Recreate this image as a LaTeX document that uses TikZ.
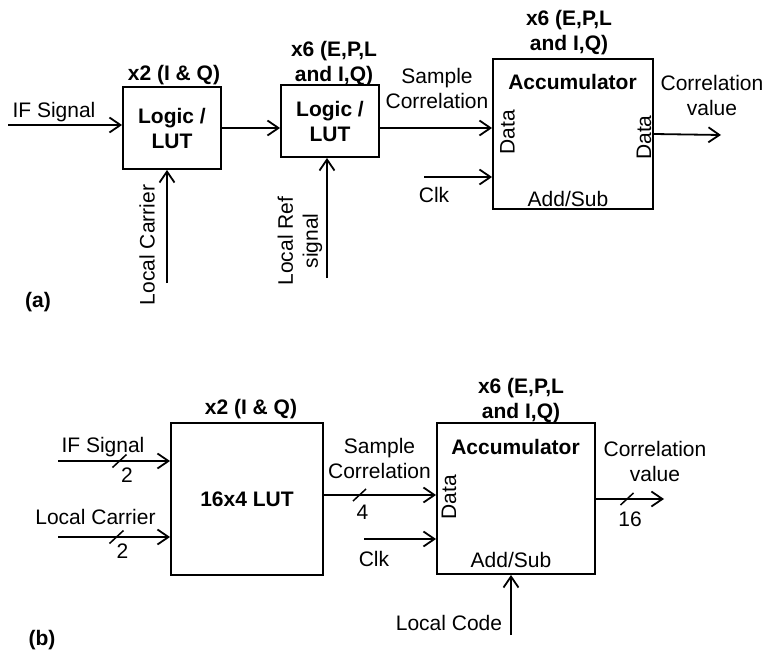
\documentclass[tikz,border=0pt]{standalone}
\usepackage{fontspec}
\setmainfont{Liberation Sans}
\usetikzlibrary{arrows.meta}
\begin{document}
\begin{tikzpicture}[x=1pt,y=-1pt,
  every node/.append style={font=\fontsize{21}{25}\selectfont},
  bf/.style={font=\fontsize{21}{25}\selectfont\bfseries},
  blk/.style={draw, line width=1.9pt, inner sep=0pt, align=center},
  lbl/.style={inner sep=0pt, align=center},
  one/.style={inner sep=0pt, text height=15pt, text depth=0pt},
  arr/.style={line width=1.8pt, -{Straight Barb[length=11pt,width=15pt]}},
  wire/.style={line width=1.5pt},
]
\useasboundingbox (0,0) rectangle (766,650);

% ---------------- panel (a) ----------------
\node[blk, bf, minimum width=98pt, minimum height=82pt] (lut1) at (172,128) {Logic /\\LUT};
\node[bf, one] (x2a) at (174,73.5) {x2 (I \& Q)};
\coordinate (ifa) at (8,125);
\draw[arr] (ifa) -- (ifa -| lut1.west);
\node[one] (ifal) at (54,110) {IF Signal};
\coordinate (lca) at (167,283);
\draw[arr] (lca) -- (lca |- lut1.south);
\node[one, rotate=90] (lcal) at (147,245) {Local Carrier};

\node[blk, bf, minimum width=98pt, minimum height=72pt] (lut2) at (330,121) {Logic /\\LUT};
\draw[arr] (lut1.east) -- (lut1.east -| lut2.west);
\node[bf, lbl] (x6a1) at (334,64) {x6 (E,P,L\\and I,Q)};
\coordinate (lra) at (327,278);
\draw[arr] (lra) -- (lra |- lut2.south);
\node[lbl, rotate=90] (lral) at (300,241) {Local Ref\\signal};

\node[blk, minimum width=160pt, minimum height=150pt] (acc1) at (573,134) {};
\path ([yshift=-7pt]lut2.east) coordinate (d1);
\draw[arr] (d1) -- (d1 -| acc1.west);
\node[lbl] (sca) at (437,88) {Sample\\Correlation};
\coordinate (clka) at (424,177);
\draw[arr] (clka) -- (clka -| acc1.west);
\node[one] (clkal) at (434,195) {Clk};
\node[bf, lbl] (x6a2) at (569,33) {x6 (E,P,L\\and I,Q)};
\node[bf, one] (acca) at (572.5,82) {Accumulator};
\node[one, rotate=90] (dina) at (507,132) {Data};
\node[one, rotate=90] (douta) at (643.5,137.5) {Data};
\node[one] (asa) at (568,198.5) {Add/Sub};
\coordinate (cva) at (721,135);
\draw[arr] (acc1.east) -- (cva);
\node[lbl] (cval) at (712,95) {Correlation\\value};
\node[bf, one] (pa) at (38,300) {(a)};

% ---------------- panel (b) ----------------
\node[blk, bf, minimum width=152pt, minimum height=152pt] (lut3) at (247,499) {16x4 LUT};
\node[bf, one] (x2b) at (251,407) {x2 (I \& Q)};
\coordinate (ifb) at (58,461);
\draw[arr] (ifb) -- (ifb -| lut3.west);
\coordinate (s1) at (119.5,461);
\draw[wire] ([shift={(-7,6.5)}]s1) -- ([shift={(7,-6.5)}]s1);
\node[one] (ifbl) at (103,445) {IF Signal};
\node[one] (n1) at (127,475) {2};
\coordinate (lcb) at (58,537);
\draw[arr] (lcb) -- (lcb -| lut3.west);
\coordinate (s2) at (116.5,537);
\draw[wire] ([shift={(-7,6.5)}]s2) -- ([shift={(7,-6.5)}]s2);
\node[one] (lcbl) at (95.5,517) {Local Carrier};
\node[one] (n2) at (122.5,551) {2};

\node[blk, minimum width=158pt, minimum height=151pt] (acc2) at (516,498.5) {};
\path ([yshift=4pt]lut3.east) coordinate (d2);
\draw[arr] (d2) -- (d2 -| acc2.west);
\coordinate (s3) at (359.5,495);
\draw[wire] ([shift={(-6.5,6)}]s3) -- ([shift={(6.5,-6)}]s3);
\node[one] (n3) at (362.5,511.5) {4};
\node[lbl] (scb) at (379.5,458) {Sample\\Correlation};
\coordinate (clkb) at (364,539);
\draw[arr] (clkb) -- (clkb -| acc2.west);
\node[one] (clkbl) at (374,559) {Clk};
\node[bf, lbl] (x6b) at (521,401) {x6 (E,P,L\\and I,Q)};
\node[bf, one] (accb) at (515.5,447) {Accumulator};
\node[one, rotate=90] (dinb) at (448.5,497) {Data};
\node[one] (asb) at (511,560) {Add/Sub};
\coordinate (lcd) at (511,635);
\draw[arr] (lcd) -- (lcd |- acc2.south);
\node[one] (lcdl) at (449,622.5) {Local Code};
\coordinate (cvb) at (664,499);
\draw[arr] (acc2.east |- cvb) -- (cvb);
\coordinate (s4) at (627,499);
\draw[wire] ([shift={(-6.5,6)}]s4) -- ([shift={(6.5,-6)}]s4);
\node[one] (n4) at (630,519) {16};
\node[lbl] (cvbl) at (655,461) {Correlation\\value};
\node[bf, one] (pb) at (42,638) {(b)};
\end{tikzpicture}
\end{document}
